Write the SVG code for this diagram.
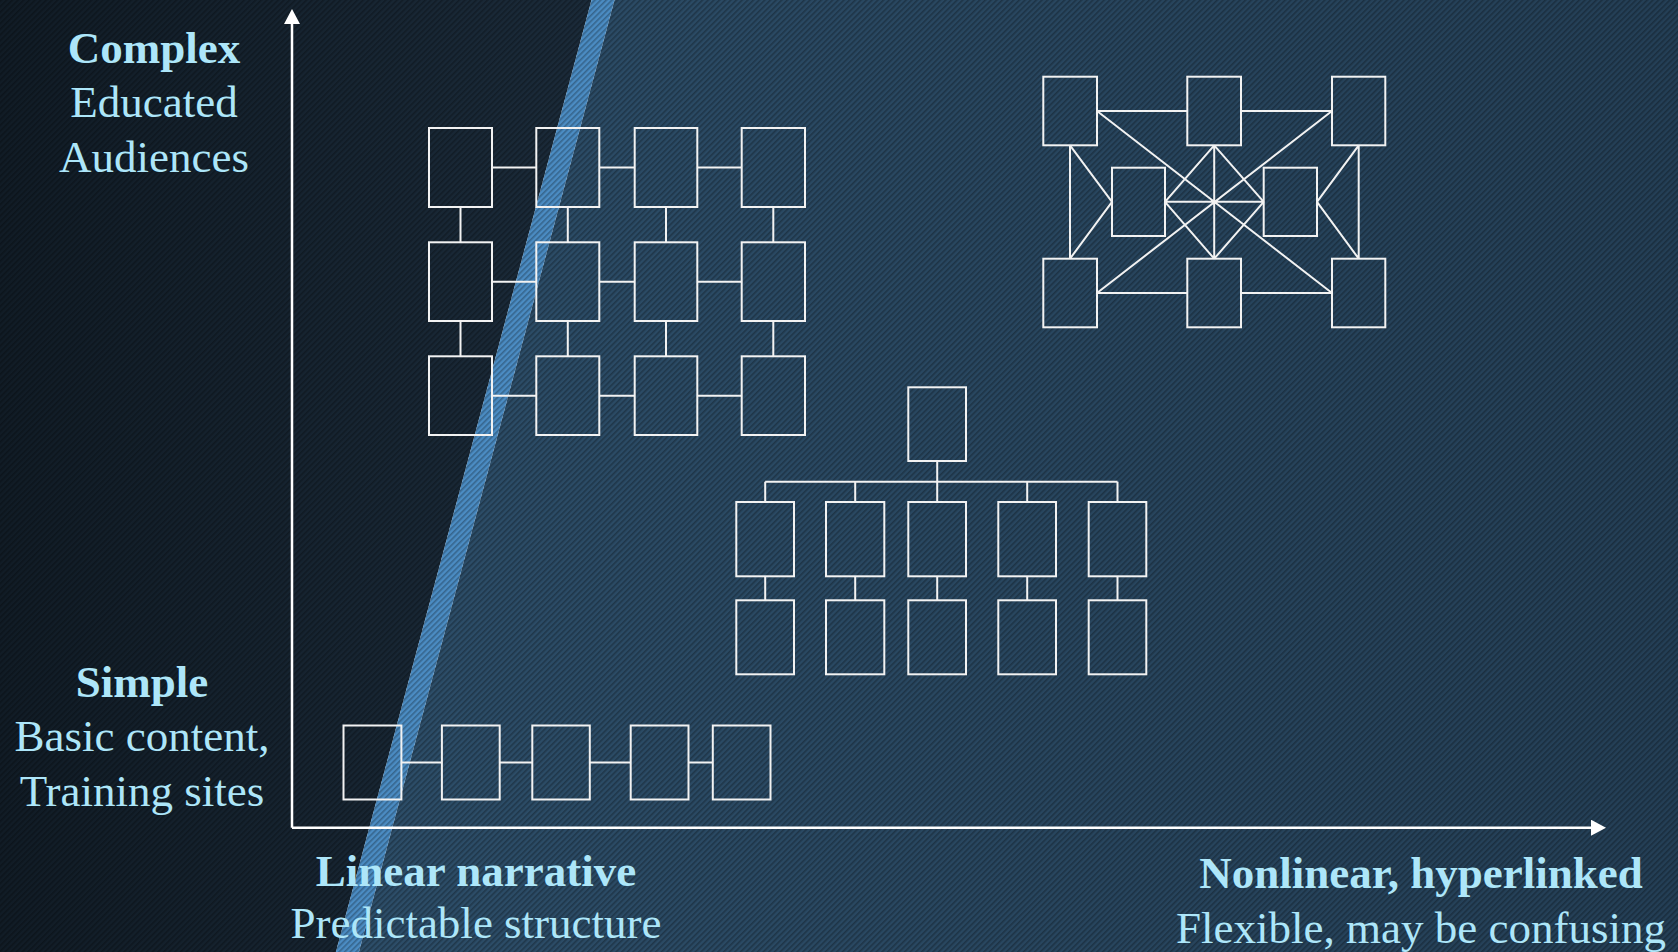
<svg xmlns="http://www.w3.org/2000/svg" width="1678" height="952" viewBox="0 0 1678 952">
  <defs>
    <linearGradient id="gDark" x1="0" y1="0" x2="1" y2="0">
      <stop offset="0" stop-color="#111c26"/>
      <stop offset="1" stop-color="#1b2b3a"/>
    </linearGradient>
    <linearGradient id="gRight" x1="0" y1="0" x2="1" y2="0">
      <stop offset="0" stop-color="#2d4e69"/>
      <stop offset="1" stop-color="#243f56"/>
    </linearGradient>
    <pattern id="hatch" width="4" height="4" patternUnits="userSpaceOnUse" patternTransform="rotate(45)">
      <rect width="1.6" height="4" fill="#000" opacity="0.28"/>
    </pattern>
    <marker id="arrow" viewBox="0 0 15 16" refX="0" refY="8" markerWidth="15" markerHeight="16" markerUnits="userSpaceOnUse" orient="auto">
      <path d="M0,0 L15,8 L0,16 Z" fill="#ffffff"/>
    </marker>
    <style>
      .box { fill: none; stroke: #f2f2f2; stroke-width: 2; }
      .ln { fill: none; stroke: #f2f2f2; stroke-width: 2; }
      .axis { fill: none; stroke: #ffffff; stroke-width: 2.5; }
      .t { font-family: "Liberation Serif", "Times New Roman", serif; font-size: 45px; fill: #ade6f9; text-anchor: middle; }
      .b { font-weight: bold; }
    </style>
  </defs>

  <g id="background">
    <polygon points="0,0 591.5,0 335.9,952 0,952" fill="url(#gDark)"/>
    <polygon points="614.5,0 1678,0 1678,952 358.9,952" fill="url(#gRight)"/>
    <polygon points="591.5,0 614.5,0 358.9,952 335.9,952" fill="#4b8cc3"/>
    <rect x="0" y="0" width="1678" height="952" fill="url(#hatch)"/>
  </g>

  <g id="labels">
    <text class="t b" x="154" y="63">Complex</text>
    <text class="t" x="154" y="117">Educated</text>
    <text class="t" x="154" y="172">Audiences</text>
    <text class="t b" x="142" y="697">Simple</text>
    <text class="t" x="142" y="751">Basic content,</text>
    <text class="t" x="142" y="806">Training sites</text>
    <text class="t b" x="476" y="886">Linear narrative</text>
    <text class="t" x="476" y="938">Predictable structure</text>
    <text class="t b" x="1421" y="888">Nonlinear, hyperlinked</text>
    <text class="t" x="1421" y="943">Flexible, may be confusing</text>
  </g>

  <g id="connectors">
    <!-- axes -->
    <line class="axis" x1="292" y1="827.7" x2="292" y2="24" marker-end="url(#arrow)"/>
    <line class="axis" x1="292" y1="827.7" x2="1591" y2="827.7" marker-end="url(#arrow)"/>
    <!-- grid -->
    <path class="ln" d="M492,167.5H536.3 M599.3,167.5H634.7 M697.3,167.5H741.7
                       M492,281.7H536.3 M599.3,281.7H634.7 M697.3,281.7H741.7
                       M492,395.7H536.3 M599.3,395.7H634.7 M697.3,395.7H741.7
                       M460.5,207V242.3 M567.8,207V242.3 M666,207V242.3 M773.3,207V242.3
                       M460.5,321V356.3 M567.8,321V356.3 M666,321V356.3 M773.3,321V356.3"/>
    <!-- network -->
    <path class="ln" d="M1097,111H1187.3 M1241,111H1332 M1097,293H1187.3 M1241,293H1332
                       M1070,145.3V258.7 M1358.7,145.3V258.7
                       M1070,145.3L1112,201.8 M1070,258.7L1112,201.8
                       M1358.7,145.3L1317,201.8 M1358.7,258.7L1317,201.8
                       M1097,111L1332,293 M1332,111L1097,293
                       M1214.2,145.3V258.7 M1165,201.8H1263.7
                       M1214.2,145.3L1165,201.8 M1214.2,145.3L1263.7,201.8
                       M1214.2,258.7L1165,201.8 M1214.2,258.7L1263.7,201.8"/>
    <!-- tree -->
    <path class="ln" d="M937.2,461V502 M765.2,481.7H1117.5 M765.2,481.7V502 M855.2,481.7V502 M1027.2,481.7V502 M1117.5,481.7V502
                       M765.2,576.3V600.3 M855.2,576.3V600.3 M937.2,576.3V600.3 M1027.2,576.3V600.3 M1117.5,576.3V600.3"/>
    <!-- chain -->
    <path class="ln" d="M401.4,762.5H441.9 M499.7,762.5H532.3 M589.8,762.5H630.7 M688.5,762.5H712.8"/>
  </g>

  <g id="grid-nodes">
    <rect id="g11" class="box" x="429" y="128" width="63" height="79"/>
    <rect id="g12" class="box" x="536.3" y="128" width="63" height="79"/>
    <rect id="g13" class="box" x="634.7" y="128" width="62.6" height="79"/>
    <rect id="g14" class="box" x="741.7" y="128" width="63.3" height="79"/>
    <rect id="g21" class="box" x="429" y="242.3" width="63" height="78.7"/>
    <rect id="g22" class="box" x="536.3" y="242.3" width="63" height="78.7"/>
    <rect id="g23" class="box" x="634.7" y="242.3" width="62.6" height="78.7"/>
    <rect id="g24" class="box" x="741.7" y="242.3" width="63.3" height="78.7"/>
    <rect id="g31" class="box" x="429" y="356.3" width="63" height="78.7"/>
    <rect id="g32" class="box" x="536.3" y="356.3" width="63" height="78.7"/>
    <rect id="g33" class="box" x="634.7" y="356.3" width="62.6" height="78.7"/>
    <rect id="g34" class="box" x="741.7" y="356.3" width="63.3" height="78.7"/>
  </g>

  <g id="network-nodes">
    <rect id="n-tl" class="box" x="1043.3" y="76.7" width="53.7" height="68.6"/>
    <rect id="n-tm" class="box" x="1187.3" y="76.7" width="53.7" height="68.6"/>
    <rect id="n-tr" class="box" x="1332" y="76.7" width="53.3" height="68.6"/>
    <rect id="n-ml" class="box" x="1112" y="167.7" width="53" height="68.3"/>
    <rect id="n-mr" class="box" x="1263.7" y="167.7" width="53.3" height="68.3"/>
    <rect id="n-bl" class="box" x="1043.3" y="258.7" width="53.7" height="68.6"/>
    <rect id="n-bm" class="box" x="1187.3" y="258.7" width="53.7" height="68.6"/>
    <rect id="n-br" class="box" x="1332" y="258.7" width="53.3" height="68.6"/>
  </g>

  <g id="tree-nodes">
    <rect id="t-root" class="box" x="908.3" y="387.3" width="57.7" height="73.7"/>
    <rect id="t-a1" class="box" x="736.3" y="502" width="57.7" height="74.3"/>
    <rect id="t-b1" class="box" x="826" y="502" width="58.3" height="74.3"/>
    <rect id="t-c1" class="box" x="908.3" y="502" width="57.7" height="74.3"/>
    <rect id="t-d1" class="box" x="998.3" y="502" width="57.7" height="74.3"/>
    <rect id="t-e1" class="box" x="1088.7" y="502" width="57.6" height="74.3"/>
    <rect id="t-a2" class="box" x="736.3" y="600.3" width="57.7" height="74"/>
    <rect id="t-b2" class="box" x="826" y="600.3" width="58.3" height="74"/>
    <rect id="t-c2" class="box" x="908.3" y="600.3" width="57.7" height="74"/>
    <rect id="t-d2" class="box" x="998.3" y="600.3" width="57.7" height="74"/>
    <rect id="t-e2" class="box" x="1088.7" y="600.3" width="57.6" height="74"/>
  </g>

  <g id="chain-nodes">
    <rect id="c1" class="box" x="343.5" y="725.5" width="57.9" height="74"/>
    <rect id="c2" class="box" x="441.9" y="725.5" width="57.8" height="74"/>
    <rect id="c3" class="box" x="532.3" y="725.5" width="57.5" height="74"/>
    <rect id="c4" class="box" x="630.7" y="725.5" width="57.8" height="74"/>
    <rect id="c5" class="box" x="712.8" y="725.5" width="57.7" height="74"/>
  </g>
</svg>
